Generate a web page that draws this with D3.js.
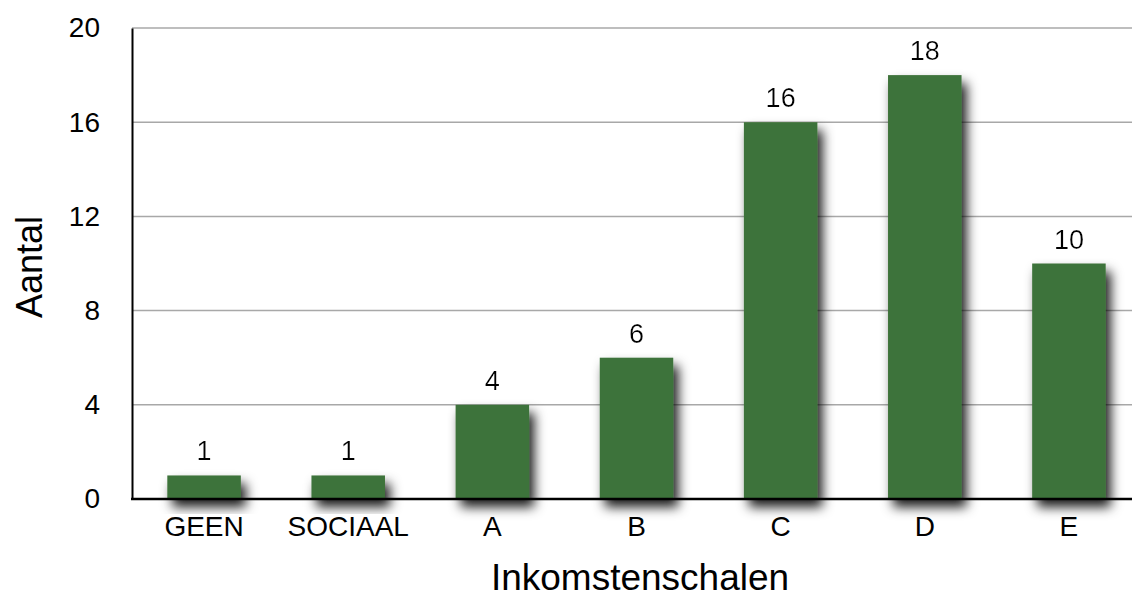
<!DOCTYPE html>
<html>
<head>
<meta charset="utf-8">
<script src="https://cdn.jsdelivr.net/npm/d3@7"></script>
<style>
  body { margin: 0; background: #fff; }
  text { font-family: "Liberation Sans", Arial, Helvetica, sans-serif; }
</style>
</head>
<body>
<svg id="chart"></svg>
<script>
// data
const categories = ["GEEN", "SOCIAAL", "A", "B", "C", "D", "E"];
const counts = [1, 1, 4, 6, 16, 18, 10];
const yTicks = [0, 4, 8, 12, 16, 20];

const data = categories.map((c, i) => ({ cat: c, value: counts[i] }));

let width = 1132, height = 599;
let margin = { top: 28, bottom: 100, left: 132, right: -9 };

let svg = d3.select('#chart')
    .attr('width', width)
    .attr('height', height);

// drop shadow for bars
const defs = svg.append('defs');
const shadow = defs.append('filter')
    .attr('id', 'shadow')
    .attr('x', '-40%').attr('y', '-40%')
    .attr('width', '200%').attr('height', '200%');
shadow.append('feDropShadow')
    .attr('dx', 5).attr('dy', 8)
    .attr('stdDeviation', 6)
    .attr('flood-color', '#000')
    .attr('flood-opacity', 0.9);

const glow = defs.append('filter').attr('id', 'glow');
glow.append('feDropShadow')
    .attr('dx', 0).attr('dy', 0)
    .attr('stdDeviation', 2)
    .attr('flood-color', '#fff')
    .attr('flood-opacity', 1);

// scales
let xScale = d3.scaleBand()
    .domain(categories)
    .range([margin.left, width - margin.right])
    .paddingInner(0.49)
    .paddingOuter(0.245);

let yScale = d3.scaleLinear()
    .domain([0, 20])
    .range([height - margin.bottom, margin.top]);

// grid lines
svg.append('g')
    .selectAll('line')
    .data(yTicks.filter(d => d > 0))
    .enter()
    .append('line')
    .attr('x1', margin.left)
    .attr('x2', width)
    .attr('y1', d => yScale(d))
    .attr('y2', d => yScale(d))
    .attr('stroke', '#a8a8a8')
    .attr('stroke-width', 1.5);

// y axis
let yAxis = svg.append('g')
    .attr('transform', `translate(${margin.left}, 0)`)
    .call(d3.axisLeft(yScale).tickValues(yTicks).tickSize(0).tickPadding(32));
yAxis.select('.domain').attr('stroke', '#000').attr('stroke-width', 2);
yAxis.selectAll('text')
    .style('font-size', '28px')
    .attr('fill', '#000')
    .attr('font-family', '"Liberation Sans", Arial, sans-serif');

// bars
svg.selectAll('rect.bar')
    .data(data)
    .enter()
    .append('rect')
    .attr('class', 'bar')
    .attr('x', d => xScale(d.cat))
    .attr('y', d => yScale(d.value))
    .attr('width', xScale.bandwidth())
    .attr('height', d => yScale(0) - yScale(d.value))
    .attr('fill', '#3e733a')
    .attr('filter', 'url(#shadow)');

// x axis
let xAxis = svg.append('g')
    .attr('transform', `translate(0, ${yScale(0)})`)
    .call(d3.axisBottom(xScale).tickSize(0).tickPadding(17));
xAxis.select('.domain')
    .attr('d', `M${margin.left - 1},0H${width}`)
    .attr('stroke', '#000').attr('stroke-width', 2.5);
xAxis.selectAll('text')
    .style('font-size', '28px')
    .attr('fill', '#000')
    .attr('font-family', '"Liberation Sans", Arial, sans-serif');

// value labels
svg.selectAll('text.value')
    .data(data)
    .enter()
    .append('text')
    .attr('class', 'value')
    .attr('x', d => xScale(d.cat) + xScale.bandwidth() / 2)
    .attr('y', d => yScale(d.value) - 15)
    .attr('text-anchor', 'middle')
    .style('font-size', '27px')
    .attr('filter', 'url(#glow)')
    .text(d => d.value);

// axis titles
svg.append('text')
    .attr('x', 640)
    .attr('y', 590)
    .attr('text-anchor', 'middle')
    .style('font-size', '37px')
    .text('Inkomstenschalen');

svg.append('text')
    .attr('transform', 'translate(42, 267) rotate(-90)')
    .attr('text-anchor', 'middle')
    .style('font-size', '36px')
    .text('Aantal');
</script>
</body>
</html>
